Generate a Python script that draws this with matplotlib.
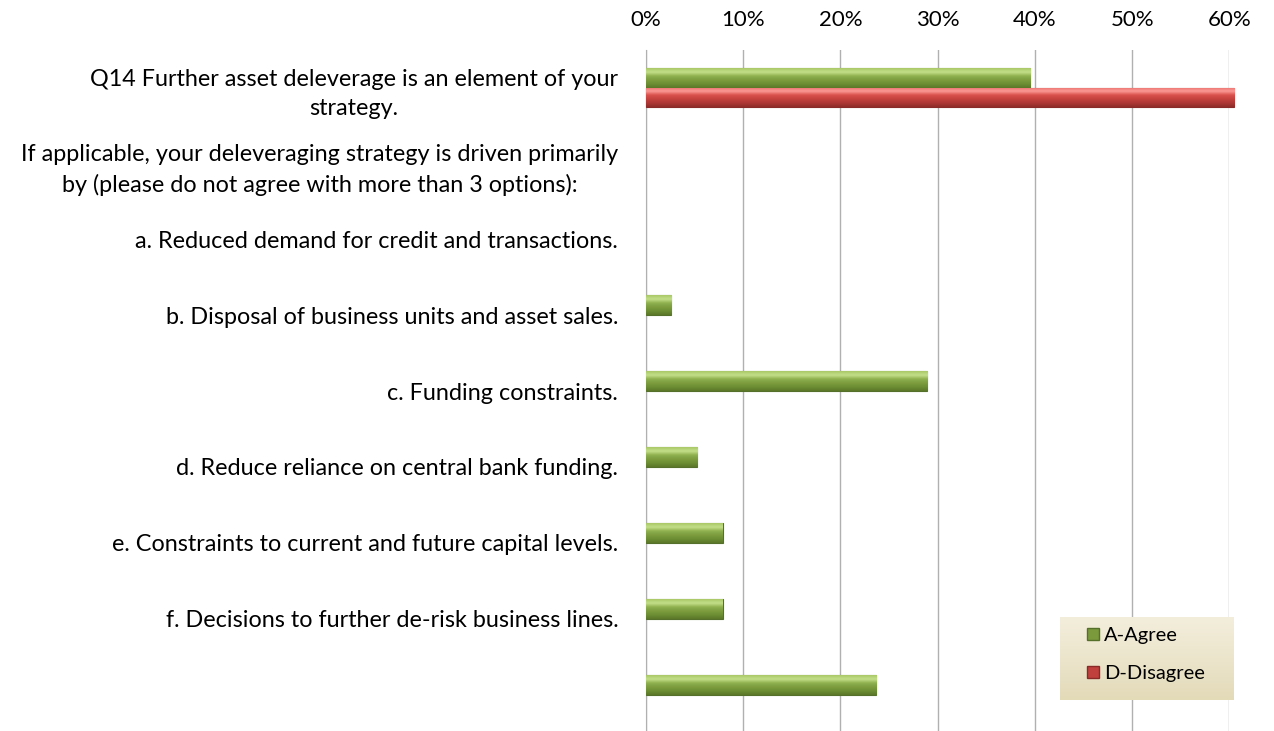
import matplotlib
matplotlib.use("Agg")
import matplotlib.pyplot as plt
import numpy as np
from matplotlib.colors import LinearSegmentedColormap
from matplotlib.lines import Line2D
from matplotlib.patches import Rectangle

plt.rcParams['font.family'] = ['Lato', 'DejaVu Sans']

# survey answers, share of respondents
labels = [
    "Q14 Further asset deleverage is an element of your\nstrategy.",
    "If applicable, your deleveraging strategy is driven primarily\nby (please do not agree with more than 3 options):",
    "a. Reduced demand for credit and transactions.",
    "b. Disposal of business units and asset sales.",
    "c. Funding constraints.",
    "d. Reduce reliance on central bank funding.",
    "e. Constraints to current and future capital levels.",
    "f. Decisions to further de-risk business lines.",
    "",
]
agree = [0.395, 0, 0, 0.026, 0.289, 0.053, 0.079, 0.079, 0.237]
disagree = [0.605, 0, 0, 0, 0, 0, 0, 0, 0]
xticks = [0, 0.1, 0.2, 0.3, 0.4, 0.5, 0.6]

green_cmap = LinearSegmentedColormap.from_list(
    "g", ["#a9c866", "#c4e08a", "#8fb04e", "#7c9c3e", "#6e8e34", "#5a7628"])
red_cmap = LinearSegmentedColormap.from_list(
    "r", ["#e9706c", "#fb9a96", "#d9504c", "#c4423f", "#ae3734", "#8e2b29"])
beige_cmap = LinearSegmentedColormap.from_list("b", ["#f3eedc", "#ece5cc", "#e3dab8"])

FS = 16.8

fig = plt.figure(figsize=(12.74, 7.31), dpi=100)
ax = fig.add_axes([0.507, -0.002, 0.458, 0.934])

y = np.arange(len(labels))
h = 0.26
gb = ax.barh(y - h / 2, agree, height=h, color="#7a9a3c", edgecolor="#55702a",
             lw=[0.8 if v > 0 else 0 for v in agree], zorder=3)
rb = ax.barh(y + h / 2, disagree, height=h, color="#c0403d", edgecolor="#8a2a28",
             lw=[0.8 if v > 0 else 0 for v in disagree], zorder=3, clip_on=False)

grad = np.linspace(0, 1, 64).reshape(-1, 1)
for bars, cmap in ((gb, green_cmap), (rb, red_cmap)):
    for p in bars:
        if p.get_width() <= 0:
            continue
        x0, y0 = p.get_x(), p.get_y()
        im = ax.imshow(grad, cmap=cmap, aspect="auto", zorder=3.5,
                       extent=(x0, x0 + p.get_width(), y0 + p.get_height(), y0),
                       interpolation="bicubic")
        im.set_clip_path(p)
        im.set_clip_on(True)

ax.set_xlim(0, 0.6)
ax.set_ylim(len(labels) - 0.5, -0.5)
ax.set_xticks(xticks)
ax.set_xticklabels(["%d%%" % round(v * 100) for v in xticks], fontsize=16)
ax.xaxis.tick_top()
ax.tick_params(axis="x", length=0, pad=14)
ax.tick_params(axis="y", length=0, pad=20)
ax.set_yticks(y)
ax.set_yticklabels(labels, fontsize=FS, linespacing=1.5, ha="right")
for lab in ax.get_yticklabels():
    lab.set_multialignment("center")
ax.grid(axis="x", color="#b0b0b0", lw=1, zorder=0)
for s in ("top", "right", "bottom"):
    ax.spines[s].set_visible(False)
ax.spines["left"].set_color("#b0b0b0")
ax.set_facecolor("white")

# legend box (Excel-style, wide beige panel)
box = Rectangle((0.710, 0.047), 0.297, 0.1215, transform=ax.transAxes,
                facecolor="#eee8d2", edgecolor="none", zorder=5, clip_on=False)
ax.add_patch(box)
bim = ax.imshow(grad, cmap=beige_cmap, aspect="auto", zorder=5.1,
                extent=(0.710, 1.007, 0.047, 0.1685), transform=ax.transAxes,
                interpolation="bicubic")
bim.set_clip_path(box)
ax.set_xlim(0, 0.6)
ax.set_ylim(len(labels) - 0.5, -0.5)

handles = [Line2D([], [], ls="none", marker="s", ms=8, mfc="#7a9a3c", mec="#55702a", label="A-Agree"),
           Line2D([], [], ls="none", marker="s", ms=8, mfc="#c0403d", mec="#8a2a28", label="D-Disagree")]
leg = ax.legend(handles=handles, loc="upper left", bbox_to_anchor=(0.731, 0.170),
                fontsize=14.5, frameon=False, borderpad=0.5,
                labelspacing=1.05, handlelength=1.0, handletextpad=0.05,
                borderaxespad=0)
leg.set_zorder(6)

fig.savefig("out.png", dpi=100, facecolor="white")
